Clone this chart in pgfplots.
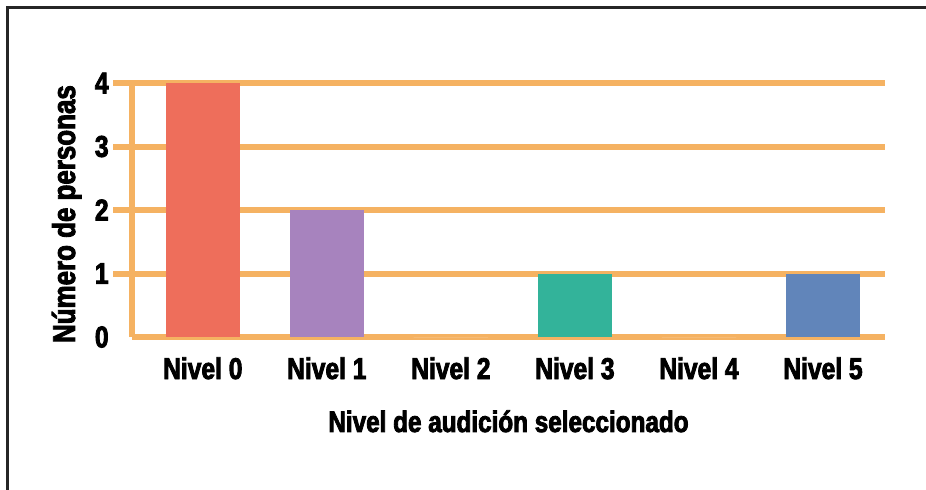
\documentclass[border=0pt]{standalone}
\usepackage{fontspec}
\setmainfont{Liberation Sans}[FakeStretch=0.82, BoldFeatures={FakeBold=2.8}]
\usepackage{pgfplots}
\pgfplotsset{compat=1.18}
\definecolor{gridor}{HTML}{F5B262}
\definecolor{cred}{HTML}{EE6E5B}
\definecolor{cpur}{HTML}{A783BE}
\definecolor{cteal}{HTML}{33B39A}
\definecolor{cblue}{HTML}{6185BA}
\begin{document}
\begin{tikzpicture}
\useasboundingbox (0,0) rectangle (463pt,244.5pt);
\draw[line width=1.3pt, black!85] (3.6pt,-2pt) -- (3.6pt,240.9pt) -- (466pt,240.9pt);
\begin{axis}[
  at={(66pt,76pt)}, anchor=south west,
  width=376.5pt, height=127pt, scale only axis,
  xmin=-0.571, xmax=5.5, ymin=0, ymax=4,
  axis x line*=bottom, axis y line*=left,
  axis line style={-, draw=gridor, line width=3pt, line cap=butt},
  xtick={0,1,2,3,4,5},
  xticklabels={Nivel 0, Nivel 1, Nivel 2, Nivel 3, Nivel 4, Nivel 5},
  xtick align=inside,
  xtick style={draw=none},
  ytick={1,2,3,4},
  ytick align=outside,
  major tick length=9.5pt,
  ytick style={draw=gridor, line width=3pt},
  extra y ticks={0},
  extra y tick style={grid=none, ytick style={draw=none}},
  ymajorgrids,
  grid style={draw=gridor, line width=3pt, line cap=butt},
  /pgf/number format/assume math mode=true,
  tick label style={font=\bfseries\fontsize{15}{17}\selectfont, text=black},
  xticklabel style={anchor=base, yshift=-21pt, inner sep=0pt},
  yticklabel style={anchor=east, inner sep=0pt, xshift=-2pt},
  xlabel={Nivel de audición seleccionado},
  ylabel={Número de personas},
  xlabel style={font=\bfseries\fontsize{14.8}{17}\selectfont, at={(axis description cs:0.5,-0.374)}, anchor=base, inner sep=0pt},
  ylabel style={font=\bfseries\fontsize{15.8}{17}\selectfont, at={(axis description cs:-0.0757,0.484)}, anchor=base, inner sep=0pt},
  clip=false,
]
\addplot[ybar, bar width=0.6, bar shift=0pt, fill=cred, draw=none] coordinates {(0,4)};
\addplot[ybar, bar width=0.6, bar shift=0pt, fill=cpur, draw=none] coordinates {(1,2)};
\addplot[ybar, bar width=0.6, bar shift=0pt, fill=white, draw=none] coordinates {(2,0)};
\addplot[ybar, bar width=0.6, bar shift=0pt, fill=cteal, draw=none] coordinates {(3,1)};
\addplot[ybar, bar width=0.6, bar shift=0pt, fill=white, draw=none] coordinates {(4,0)};
\addplot[ybar, bar width=0.6, bar shift=0pt, fill=cblue, draw=none] coordinates {(5,1)};
\end{axis}
\end{tikzpicture}
\end{document}
